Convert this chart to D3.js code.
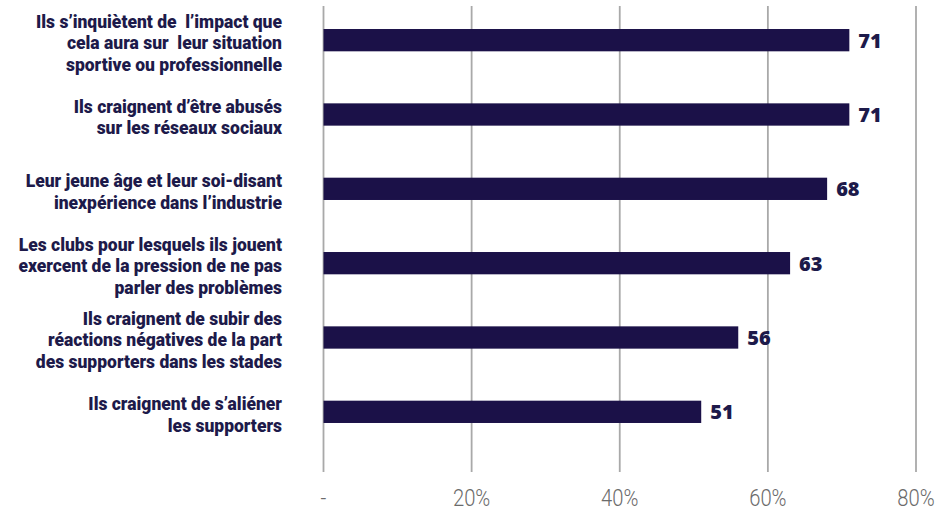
<!DOCTYPE html>
<html>
<head>
<meta charset="utf-8">
<script src="https://cdn.jsdelivr.net/npm/d3@7"></script>
<style>
  html, body { margin: 0; padding: 0; background: #ffffff; }
  svg { display: block; }
</style>
</head>
<body>
<svg id="chart" width="937" height="513"></svg>
<script>
// Reasons, one entry per bar (line breaks mark the wrapped label lines)
const categories = [
  "Ils s’inquiètent de  l’impact que\ncela aura sur  leur situation\nsportive ou professionnelle",
  "Ils craignent d’être abusés\nsur les réseaux sociaux",
  "Leur jeune âge et leur soi-disant\ninexpérience dans l’industrie",
  "Les clubs pour lesquels ils jouent\nexercent de la pression de ne pas\nparler des problèmes",
  "Ils craignent de subir des\nréactions négatives de la part\ndes supporters dans les stades",
  "Ils craignent de s’aliéner\nles supporters"
];
// Share of respondents (%)
const values = [71, 71, 68, 63, 56, 51];
// Axis ticks and their labels
const tickValues = [0, 20, 40, 60, 80];
const tickLabels = ["-", "20%", "40%", "60%", "80%"];

const navy = "#1b1148";
const textNavy = "#1d1a4a";
const gridColor = "#a9a9a9";
const condensedFont = "Roboto, 'Noto Sans', sans-serif";

const svg = d3.select("#chart");

const x = d3.scaleLinear().domain([0, 80]).range([323.5, 916]);
const y = d3.scaleBand()
  .domain(d3.range(categories.length))
  .range([3, 449])
  .paddingInner(0.7)
  .paddingOuter(0.35);

// Vertical gridlines
svg.append("g")
  .selectAll("line")
  .data(tickValues)
  .join("line")
  .attr("x1", d => x(d)).attr("x2", d => x(d))
  .attr("y1", 6).attr("y2", 472)
  .attr("stroke", gridColor)
  .attr("stroke-width", 1.8);

// Tick labels under the gridlines (narrowed light face)
svg.append("g")
  .selectAll("text")
  .data(tickValues)
  .join("text")
  .attr("transform", d => `translate(${x(d)},506) scale(0.86,1)`)
  .attr("text-anchor", "middle")
  .attr("font-family", condensedFont)
  .attr("font-weight", 300)
  .attr("font-size", 23.5)
  .attr("fill", "#6b6b6b")
  .text((d, i) => tickLabels[i]);

// Bars
svg.append("g")
  .selectAll("rect")
  .data(values)
  .join("rect")
  .attr("x", x(0))
  .attr("y", (d, i) => y(i))
  .attr("width", d => x(d) - x(0))
  .attr("height", y.bandwidth())
  .attr("fill", navy);

// Value labels at the bar ends
svg.append("g")
  .selectAll("text")
  .data(values)
  .join("text")
  .attr("x", d => x(d) + 9)
  .attr("y", (d, i) => y(i) + y.bandwidth() / 2 + 7.5)
  .attr("font-family", "'Open Sans', sans-serif")
  .attr("font-weight", 800)
  .attr("font-size", 20)
  .attr("fill", textNavy)
  .text(d => d);

// Category labels, right-aligned and centred on each bar
const lineH = 21.5;
const labelRight = 282;
const labels = svg.append("g")
  .selectAll("text")
  .data(categories)
  .join("text")
  .attr("text-anchor", "end")
  .attr("font-family", condensedFont)
  .attr("font-weight", 900)
  .attr("font-size", 18.5)
  .attr("fill", textNavy)
  .style("white-space", "pre");

labels.each(function (d, i) {
  const lines = d.split("\n");
  const cy = y(i) + y.bandwidth() / 2 + 2.5;
  d3.select(this)
    .selectAll("tspan")
    .data(lines)
    .join("tspan")
    .attr("x", 0)
    .attr("y", (l, j) => cy + (j - (lines.length - 1) / 2) * lineH + 6.5)
    .text(l => l);
});

// Narrow the label face horizontally so the first line spans 246px
const firstLine = labels.filter((d, i) => i === 0).select("tspan").node();
const squeeze = Math.min(1, 246 / firstLine.getComputedTextLength());
labels.attr("transform", `translate(${labelRight},0) scale(${squeeze},1)`);
</script>
</body>
</html>
